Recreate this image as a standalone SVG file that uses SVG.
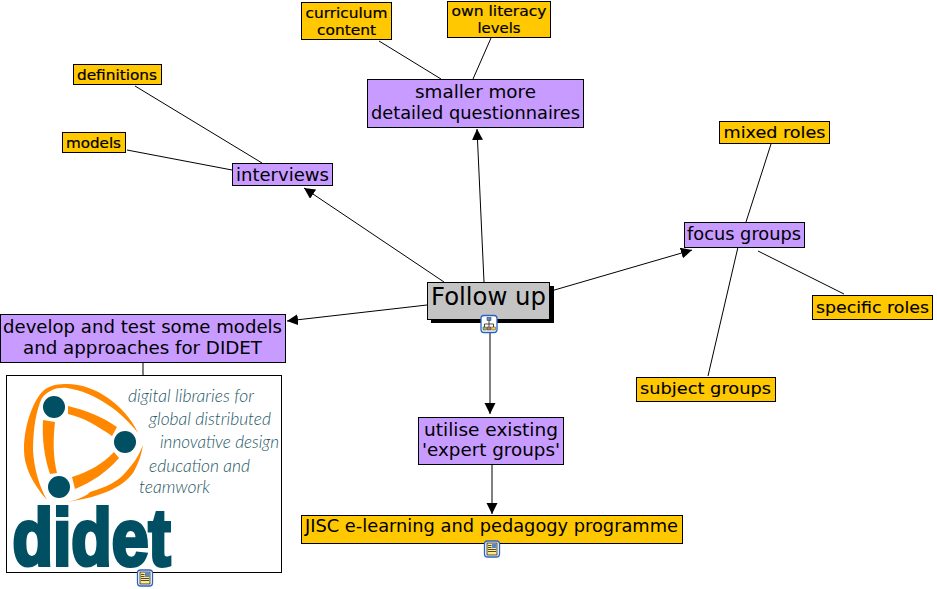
<svg xmlns="http://www.w3.org/2000/svg" width="937" height="589" viewBox="0 0 937 589">
<style>
text{font-family:"DejaVu Sans",Verdana,sans-serif;fill:#000;text-anchor:middle}
.b{stroke:#000;stroke-width:1}
.o{fill:#ffc800}.p{fill:#c79bff}
.s{font-size:14px;stroke:#000;stroke-width:.2}.m{font-size:15px;stroke:#000;stroke-width:.1}.l{font-size:17px}
.c{stroke:#000;stroke-width:1;fill:none}
.a{marker-end:url(#ah)}
.t{font-family:Lato,"Open Sans",sans-serif;font-weight:300;font-style:italic;font-size:18px;fill:#1c5866;text-anchor:start}
.ic{fill:#fff;stroke:#2a62c0;stroke-width:1.3}
.r{fill:#ff8800}
.k{fill:#004f63}
</style>
<defs>
<marker id="ah" markerUnits="userSpaceOnUse" markerWidth="12" markerHeight="12" refX="11" refY="5.5" orient="auto"><path d="M0,0L11,5.500L0,11Z" fill="#000"/></marker>
<g id="doc"><rect x="-7.500" y="-8" width="15" height="16" rx="3" class="ic"/><rect x="-5" y="-6" width="10" height="12" fill="#ffe98a" stroke="#222" stroke-width=".8"/><rect x="0" y="-5.500" width="4.500" height="4.500" fill="#5a86c8"/><path d="M-4,-3.500H-.5M-4,-1.500H-.5M-4,.5H4M-4,2.500H4" stroke="#222" stroke-width=".8"/></g>
<g id="map"><rect x="-8" y="-8.500" width="16" height="17" rx="3" class="ic"/><path d="M0,-4V0M-4.500,3V0H4.500V3M0,0V3" stroke="#333" fill="none" stroke-width=".9"/><rect x="-2" y="-6.500" width="4" height="3" fill="#5a86c8" stroke="#333" stroke-width=".5"/><rect x="-6" y="3" width="3.500" height="3" fill="#8cc060" stroke="#333" stroke-width=".5"/><rect x="-1.700" y="3" width="3.500" height="3" fill="#e07050" stroke="#333" stroke-width=".5"/><rect x="2.800" y="3" width="3.500" height="3" fill="#f0d050" stroke="#333" stroke-width=".5"/></g>
</defs>
<g id="connectors">
<path class="c" d="M379,41L441,79M491,38L473,79M135,86L262,163M127,150L232,170M771,144L746,222M844,294L758,251M738,247L708,376M143,362V375"/>
<path class="c a" d="M444,282L304,188"/>
<path class="c a" d="M484,282L477,129"/>
<path class="c a" d="M551,291L692,250"/>
<path class="c a" d="M427,305L287,321"/>
<path class="c a" d="M490,333V414"/>
<path class="c a" d="M492,465V514"/>
</g>
<g id="n-curriculum"><rect class="b o" x="301.500" y="2.500" width="90" height="37"/><text class="s" x="346.500" y="18" textLength="82" lengthAdjust="spacingAndGlyphs">curriculum</text><text class="s" x="346.500" y="35" textLength="59" lengthAdjust="spacingAndGlyphs">content</text></g>
<g id="n-literacy"><rect class="b o" x="447.500" y="1.500" width="103" height="36"/><text class="s" x="499" y="16" textLength="95" lengthAdjust="spacingAndGlyphs">own literacy</text><text class="s" x="499" y="33" textLength="43" lengthAdjust="spacingAndGlyphs">levels</text></g>
<g id="n-smaller"><rect class="b p" x="367.500" y="79.500" width="216" height="48"/><text class="l" x="475.500" y="98" textLength="121" lengthAdjust="spacingAndGlyphs">smaller more</text><text class="l" x="475.500" y="119" textLength="209" lengthAdjust="spacingAndGlyphs">detailed questionnaires</text></g>
<g id="n-definitions"><rect class="b o" x="73.500" y="64.500" width="88" height="20"/><text class="s" x="117" y="79.500" textLength="80" lengthAdjust="spacingAndGlyphs">definitions</text></g>
<g id="n-models"><rect class="b o" x="62.500" y="132.500" width="63" height="20"/><text class="s" x="93.500" y="147.500" textLength="55" lengthAdjust="spacingAndGlyphs">models</text></g>
<g id="n-interviews"><rect class="b p" x="232.500" y="163.500" width="100" height="22"/><text class="l" x="282.500" y="180.500" textLength="93" lengthAdjust="spacingAndGlyphs">interviews</text></g>
<g id="n-focus"><rect class="b p" x="684.500" y="222.500" width="120" height="25"/><text class="l" x="744" y="240" textLength="114" lengthAdjust="spacingAndGlyphs">focus groups</text></g>
<g id="n-mixed"><rect class="b o" x="719.500" y="121.500" width="110" height="22"/><text class="m" x="774.500" y="137.500" textLength="102" lengthAdjust="spacingAndGlyphs">mixed roles</text></g>
<g id="n-specific"><rect class="b o" x="812.500" y="295.500" width="120" height="24"/><text class="m" x="872.500" y="312.500" textLength="113" lengthAdjust="spacingAndGlyphs">specific roles</text></g>
<g id="n-subject"><rect class="b o" x="636.500" y="377.500" width="139" height="24"/><text class="m" x="705.500" y="394" textLength="131" lengthAdjust="spacingAndGlyphs">subject groups</text></g>
<g id="n-follow"><rect x="431" y="286" width="123" height="37" fill="#000"/><rect class="b" x="427.500" y="282.500" width="122" height="37" fill="#c4c4c4"/><text x="488.500" y="305" font-size="24" textLength="115" lengthAdjust="spacingAndGlyphs">Follow up</text></g>
<g id="n-develop"><rect class="b p" x="0.500" y="314.500" width="285" height="48"/><text class="l" x="142.500" y="333" textLength="279" lengthAdjust="spacingAndGlyphs">develop and test some models</text><text class="l" x="142.500" y="354" textLength="239" lengthAdjust="spacingAndGlyphs">and approaches for DIDET</text></g>
<g id="n-utilise"><rect class="b p" x="418.500" y="417.500" width="145" height="47"/><text class="l" x="491" y="436" textLength="134" lengthAdjust="spacingAndGlyphs">utilise existing</text><text class="l" x="491" y="456" textLength="138" lengthAdjust="spacingAndGlyphs">'expert groups'</text></g>
<g id="n-jisc"><rect class="b o" x="301.500" y="515.500" width="381" height="28"/><text class="l" x="491.500" y="532" textLength="373" lengthAdjust="spacingAndGlyphs">JISC e-learning and pedagogy programme</text></g>
<g id="n-didet">
<rect x="6.500" y="375.500" width="275" height="197" fill="#fff" stroke="#000"/>
<path class="r" d="M47,500C32,483 24,466 24,450C24,425 33,402 42,392C50,384 60,384 67,384C95,384 125,405 138,433C122,412 95,392 67,388C58,387 48,390 42,398C36,410 33,430 33,450C34,468 39,486 47,500Z"/>
<path class="r" d="M143,445C141,458 136,468 133,473C123,487 100,498 60,503C70,502 85,498 90,492C107,487 118,481 125,473C132,465 138,458 143,445Z"/>
<path class="r" d="M68,406C85,410 103,417 117,427L112,436C97,426 85,418 68,414Z"/>
<path class="r" d="M43,420L55,422C53,440 53,456 57,473L50,474C44,456 42,438 43,420Z"/>
<path class="r" d="M114,452L119,458C107,472 92,482 75,489L72,477C88,472 103,464 114,452Z"/>
<circle class="k" cx="54" cy="407" r="11"/><circle class="k" cx="125" cy="442" r="11"/><circle class="k" cx="59" cy="487" r="11"/>
<text class="t" x="128" y="402" textLength="126" lengthAdjust="spacingAndGlyphs">digital libraries for</text>
<text class="t" x="149" y="425" textLength="122" lengthAdjust="spacingAndGlyphs">global distributed</text>
<text class="t" x="160" y="448" textLength="119" lengthAdjust="spacingAndGlyphs">innovative design</text>
<text class="t" x="149" y="472" textLength="101" lengthAdjust="spacingAndGlyphs">education and</text>
<text class="t" x="139" y="493" textLength="71" lengthAdjust="spacingAndGlyphs">teamwork</text>
<text x="91.500" y="565" font-size="80" textLength="158" lengthAdjust="spacingAndGlyphs" style="font-family:'Liberation Sans',Arial,sans-serif;font-weight:700;fill:#004f63;stroke:#004f63;stroke-width:4">didet</text>
</g>
<use id="icon-follow" href="#map" x="489" y="324"/>
<use id="icon-jisc" href="#doc" x="492" y="549"/>
<use id="icon-didet" href="#doc" x="145" y="578"/>
</svg>
